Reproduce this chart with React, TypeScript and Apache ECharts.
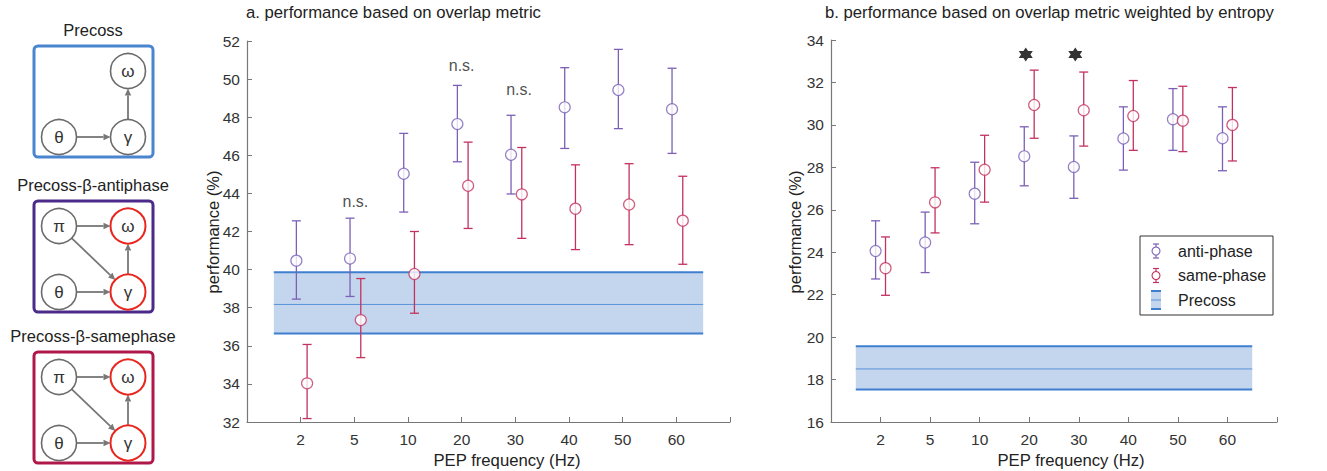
import React, { useEffect, useRef } from "react";
import * as echarts from "echarts";

// ---------- data ----------
const freqLabels = ["2", "5", "10", "20", "30", "40", "50", "60"];

// panel a: overlap metric
const antiA = [40.47, 40.58, 45.03, 47.64, 46.03, 48.52, 49.43, 48.42];
const antiALow = [38.45, 38.59, 43.02, 45.66, 43.97, 46.36, 47.4, 46.1];
const antiAHigh = [42.56, 42.7, 47.15, 49.67, 48.1, 50.6, 51.56, 50.57];
const sameA = [34.03, 37.35, 39.77, 44.4, 43.95, 43.2, 43.42, 42.57];
const sameALow = [32.18, 35.38, 37.71, 42.16, 41.64, 41.05, 41.31, 40.28];
const sameAHigh = [36.07, 39.53, 42.0, 46.69, 46.41, 45.5, 45.56, 44.9];
const precossBandA = [36.65, 38.17, 39.86]; // lower, mean, upper
const nsA = [
  [2.02, 43.56],
  [4.0, 50.7],
  [5.07, 49.48],
];

// panel b: overlap metric weighted by entropy
const antiB = [24.06, 24.46, 26.76, 28.52, 28.02, 29.36, 30.27, 29.37];
const antiBLow = [22.74, 23.04, 25.34, 27.13, 26.54, 27.87, 28.8, 27.84];
const antiBHigh = [25.48, 25.89, 28.24, 29.91, 29.48, 30.85, 31.71, 30.85];
const sameB = [23.25, 26.35, 27.89, 30.94, 30.69, 30.42, 30.2, 30.0];
const sameBLow = [21.97, 24.91, 26.36, 29.37, 29.0, 28.8, 28.74, 28.3];
const sameBHigh = [24.72, 27.98, 29.51, 32.58, 32.49, 32.09, 31.82, 31.76];
const precossBandB = [17.53, 18.5, 19.57];
const starsB = [
  [3.93, 33.32],
  [4.93, 33.32],
];

// ---------- styles ----------
const ANTI = "#7b60b6";
const SAME = "#c3325f";
const BAND_FILL = "#c4d6ee";
const BAND_LINE = "#3f7fd0";
const FONT = "'Liberation Sans', Arial, Helvetica, sans-serif";
const AXIS = "#777";
const TEXT = "#333";

const STAR =
  "path://M0,-10 L2.89,-5 L8.66,-5 L5.77,0 L8.66,5 L2.89,5 L0,10 L-2.89,5 L-8.66,5 L-5.77,0 L-8.66,-5 L-2.89,-5 Z";

function errSeries(name: string, idx: number, off: number, low: number[], high: number[], color: string) {
  return {
    name,
    type: "custom",
    xAxisIndex: idx,
    yAxisIndex: idx,
    z: 3,
    data: low.map((l, i) => [i + 1 + off, l, high[i]]),
    encode: { x: 0, y: [1, 2] },
    renderItem: (_p: any, api: any) => {
      const x = api.value(0);
      const p1 = api.coord([x, api.value(2)]);
      const p2 = api.coord([x, api.value(1)]);
      const w = 4.5;
      const st = { stroke: color, lineWidth: 1.3 };
      return {
        type: "group",
        children: [
          { type: "line", shape: { x1: p1[0], y1: p1[1], x2: p2[0], y2: p2[1] }, style: st },
          { type: "line", shape: { x1: p1[0] - w, y1: p1[1], x2: p1[0] + w, y2: p1[1] }, style: st },
          { type: "line", shape: { x1: p2[0] - w, y1: p2[1], x2: p2[0] + w, y2: p2[1] }, style: st },
        ],
      };
    },
  };
}

function pointSeries(name: string, idx: number, off: number, vals: number[], color: string) {
  return {
    name,
    type: "scatter",
    xAxisIndex: idx,
    yAxisIndex: idx,
    z: 4,
    symbol: "circle",
    symbolSize: 11,
    itemStyle: { color: "#fff", borderColor: color, borderWidth: 1.2 },
    data: vals.map((v, i) => [i + 1 + off, v]),
  };
}

function bandSeries(idx: number, band: number[]) {
  return {
    type: "custom",
    xAxisIndex: idx,
    yAxisIndex: idx,
    z: 1,
    data: [[0.5, 8.5, band[0], band[1], band[2]]],
    encode: { x: [0, 1], y: [2, 3, 4] },
    renderItem: (_p: any, api: any) => {
      const tl = api.coord([api.value(0), api.value(4)]);
      const br = api.coord([api.value(1), api.value(2)]);
      const mid = api.coord([api.value(0), api.value(3)]);
      return {
        type: "group",
        children: [
          {
            type: "rect",
            shape: { x: tl[0], y: tl[1], width: br[0] - tl[0], height: br[1] - tl[1] },
            style: { fill: BAND_FILL },
          },
          { type: "line", shape: { x1: tl[0], y1: tl[1], x2: br[0], y2: tl[1] }, style: { stroke: BAND_LINE, lineWidth: 2 } },
          { type: "line", shape: { x1: tl[0], y1: br[1], x2: br[0], y2: br[1] }, style: { stroke: BAND_LINE, lineWidth: 2 } },
          { type: "line", shape: { x1: tl[0], y1: mid[1], x2: br[0], y2: mid[1] }, style: { stroke: "#5b93da", lineWidth: 1 } },
        ],
      };
    },
  };
}

function xAxisDef(idx: number) {
  return {
    type: "value",
    gridIndex: idx,
    min: 0,
    max: 9,
    interval: 1,
    splitLine: { show: false },
    axisLine: { show: true, lineStyle: { color: AXIS, width: 1.2 } },
    axisTick: { show: true, inside: true, length: 5, lineStyle: { color: AXIS } },
    axisLabel: {
      margin: 9,
      color: TEXT,
      fontSize: 15.5,
      fontFamily: FONT,
      formatter: (v: number) => freqLabels[v - 1] ?? "",
    },
  };
}

function yAxisDef(idx: number, min: number, max: number) {
  return {
    type: "value",
    gridIndex: idx,
    min,
    max,
    interval: 2,
    splitLine: { show: false },
    axisLine: { show: true, lineStyle: { color: AXIS, width: 1.2 } },
    axisTick: { show: true, inside: true, length: 5, lineStyle: { color: AXIS } },
    axisLabel: { margin: 7, color: TEXT, fontSize: 15.5, fontFamily: FONT },
  };
}

// ---------- diagram helpers ----------
const R = 17.5;
function node(cx: number, cy: number, label: string, red: boolean) {
  return [
    {
      type: "circle",
      shape: { cx, cy, r: R },
      style: { fill: "#fff", stroke: red ? "#e8261e" : "#6b6b6b", lineWidth: red ? 2 : 1.6 },
      z: 5,
    },
    {
      type: "text",
      x: cx,
      y: cy,
      style: { text: label, fill: "#333", font: `17px ${FONT}`, align: "center", verticalAlign: "middle" },
      z: 6,
    },
  ];
}
function arrow(a: number[], b: number[]) {
  const dx = b[0] - a[0];
  const dy = b[1] - a[1];
  const L = Math.hypot(dx, dy);
  const ux = dx / L;
  const uy = dy / L;
  const s = [a[0] + ux * R, a[1] + uy * R];
  const e = [b[0] - ux * R, b[1] - uy * R];
  const h = 7;
  const w = 3.2;
  const base = [e[0] - ux * h, e[1] - uy * h];
  return [
    {
      type: "line",
      shape: { x1: s[0], y1: s[1], x2: base[0], y2: base[1] },
      style: { stroke: "#777", lineWidth: 1.8 },
      z: 4,
    },
    {
      type: "polygon",
      shape: {
        points: [
          [e[0], e[1]],
          [base[0] - uy * w, base[1] + ux * w],
          [base[0] + uy * w, base[1] - ux * w],
        ],
      },
      style: { fill: "#777" },
      z: 4,
    },
  ];
}
function box(y: number, color: string, title: string, withPi: boolean) {
  const xL = 59;
  const xR = 128;
  const yTop = y + 25;
  const yBot = y + 91;
  const els: any[] = [
    {
      type: "rect",
      shape: { x: 34, y, width: 119, height: 111, r: 4 },
      style: { fill: "#fff", stroke: color, lineWidth: 3 },
      z: 2,
    },
    {
      type: "text",
      x: 93,
      y: y - 16,
      style: { text: title, fill: "#222", font: `16.5px ${FONT}`, align: "center", verticalAlign: "middle" },
    },
  ];
  if (withPi) {
    els.push(...node(xL, yTop, "π", false));
    els.push(...arrow([xL, yTop], [xR, yTop]));
    els.push(...arrow([xL, yTop], [xR, yBot]));
  }
  els.push(...node(xR, yTop, "ω", withPi));
  els.push(...node(xL, yBot, "θ", false));
  els.push(...node(xR, yBot, "γ", withPi));
  els.push(...arrow([xL, yBot], [xR, yBot]));
  els.push(...arrow([xR, yBot], [xR, yTop]));
  return els;
}

function legendEls() {
  const x0 = 1140;
  const y0 = 236;
  const els: any[] = [
    {
      type: "rect",
      shape: { x: x0, y: y0, width: 133, height: 79 },
      style: { fill: "#fff", stroke: "#333", lineWidth: 1 },
      z: 10,
    },
  ];
  const items = [
    { y: 251, text: "anti-phase", color: ANTI },
    { y: 275.5, text: "same-phase", color: SAME },
  ];
  const ix = 1156;
  items.forEach((it) => {
    const st = { stroke: it.color, lineWidth: 1.2 };
    els.push(
      { type: "line", shape: { x1: ix, y1: it.y - 7, x2: ix, y2: it.y + 7 }, style: st, z: 11 },
      { type: "line", shape: { x1: ix - 3, y1: it.y - 7, x2: ix + 3, y2: it.y - 7 }, style: st, z: 11 },
      { type: "line", shape: { x1: ix - 3, y1: it.y + 7, x2: ix + 3, y2: it.y + 7 }, style: st, z: 11 },
      { type: "circle", shape: { cx: ix, cy: it.y, r: 4 }, style: { fill: "#fff", stroke: it.color, lineWidth: 1.1 }, z: 12 },
      {
        type: "text",
        x: 1178,
        y: it.y,
        style: { text: it.text, fill: "#222", font: `16px ${FONT}`, verticalAlign: "middle" },
        z: 12,
      }
    );
  });
  const py = 300;
  els.push(
    { type: "rect", shape: { x: ix - 5, y: py - 9, width: 10, height: 18 }, style: { fill: BAND_FILL }, z: 11 },
    { type: "line", shape: { x1: ix - 5, y1: py - 9, x2: ix + 5, y2: py - 9 }, style: { stroke: BAND_LINE, lineWidth: 2 }, z: 12 },
    { type: "line", shape: { x1: ix - 5, y1: py + 9, x2: ix + 5, y2: py + 9 }, style: { stroke: BAND_LINE, lineWidth: 2 }, z: 12 },
    { type: "line", shape: { x1: ix - 5, y1: py, x2: ix + 5, y2: py }, style: { stroke: "#5b93da", lineWidth: 1 }, z: 12 },
    {
      type: "text",
      x: 1178,
      y: py,
      style: { text: "Precoss", fill: "#222", font: `16px ${FONT}`, verticalAlign: "middle" },
      z: 12,
    }
  );
  return els;
}

function textEl(x: number, y: number, text: string, size: number, rotate = 0, align = "center") {
  return {
    type: "text",
    x,
    y,
    rotation: rotate,
    style: { text, fill: "#222", font: `${size}px ${FONT}`, align, verticalAlign: "middle" },
  };
}

export default function App() {
  const ref = useRef<HTMLDivElement>(null);
  useEffect(() => {
    document.body.style.margin = "0";
    const chart = echarts.init(ref.current!, undefined, { renderer: "svg" });
    chart.setOption({
      animation: false,
      backgroundColor: "#fff",
      grid: [
        { left: 247, top: 41, width: 483, height: 381 },
        { left: 831, top: 40, width: 446, height: 382 },
      ],
      xAxis: [xAxisDef(0), xAxisDef(1)],
      yAxis: [yAxisDef(0, 32, 52), yAxisDef(1, 16, 34)],
      series: [
        bandSeries(0, precossBandA),
        errSeries("anti-phase err", 0, -0.08, antiALow, antiAHigh, ANTI),
        errSeries("same-phase err", 0, 0.12, sameALow, sameAHigh, SAME),
        pointSeries("anti-phase", 0, -0.08, antiA, ANTI),
        pointSeries("same-phase", 0, 0.12, sameA, SAME),
        {
          type: "scatter",
          xAxisIndex: 0,
          yAxisIndex: 0,
          symbolSize: 0,
          z: 5,
          data: nsA,
          label: {
            show: true,
            position: "inside",
            formatter: "n.s.",
            color: "#222",
            fontSize: 16,
            fontFamily: FONT,
          },
        },
        bandSeries(1, precossBandB),
        errSeries("anti-phase err b", 1, -0.1, antiBLow, antiBHigh, ANTI),
        errSeries("same-phase err b", 1, 0.1, sameBLow, sameBHigh, SAME),
        pointSeries("anti-phase b", 1, -0.1, antiB, ANTI),
        pointSeries("same-phase b", 1, 0.1, sameB, SAME),
        {
          type: "scatter",
          xAxisIndex: 1,
          yAxisIndex: 1,
          symbol: STAR,
          symbolSize: 14,
          z: 5,
          itemStyle: { color: "#000" },
          data: starsB,
        },
      ],
      graphic: [
        ...box(46, "#4a86d0", "Precoss", false),
        ...box(201, "#4b2a8a", "Precoss-β-antiphase", true),
        ...box(352, "#b0184a", "Precoss-β-samephase", true),
        textEl(246, 12, "a. performance based on overlap metric", 16.7, 0, "left"),
        textEl(825, 12, "b. performance based on overlap metric weighted by entropy", 16.7, 0, "left"),
        textEl(213, 232, "performance (%)", 16.5, Math.PI / 2),
        textEl(795, 232, "performance (%)", 16.5, Math.PI / 2),
        textEl(507, 460, "PEP frequency (Hz)", 16.7),
        textEl(1071, 460, "PEP frequency (Hz)", 16.7),
        ...legendEls(),
      ],
    });
    return () => chart.dispose();
  }, []);
  return <div ref={ref} style={{ width: 1327, height: 471 }} />;
}
